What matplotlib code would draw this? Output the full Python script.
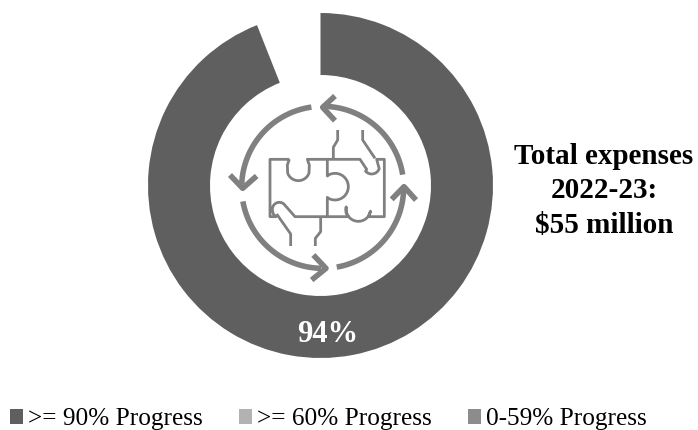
import numpy as np
import matplotlib
matplotlib.use("Agg")
import matplotlib.pyplot as plt
from matplotlib.patches import Patch

categories = [">= 90% Progress", ">= 60% Progress", "0-59% Progress"]
values = [94, 0, 0]
remainder = [6]
colors = ["#5f5f5f", "#b2b2b2", "#8c8c8c"]
center_label = "94%"
side_label = "Total expenses\n2022-23:\n$55 million"

W, H = 698, 430
plt.rcParams["font.family"] = ["Liberation Serif", "DejaVu Serif"]
fig = plt.figure(figsize=(W / 100, H / 100), dpi=100)

# donut
cx, cy, R, r = 320.5, 185.5, 172.5, 110.5
ax = fig.add_axes([(cx - R) / W, 1 - (cy + R) / H, 2 * R / W, 2 * R / H])
ax.pie(values + remainder, colors=colors + ["none"], startangle=90, counterclock=False,
       radius=1, wedgeprops=dict(width=1 - r / R, linewidth=0))
ax.set_xlim(-1, 1)
ax.set_ylim(-1, 1)
ax.set_aspect("equal")
ax.axis("off")

# overlay in pixel coordinates for the decorative icon and text
ov = fig.add_axes([0, 0, 1, 1])
ov.set_xlim(0, W)
ov.set_ylim(H, 0)
ov.axis("off")
ov.patch.set_alpha(0)

def Z(pts):
    a = np.array(pts, float)
    return a[:, 0] / 3 + 200, a[:, 1] / 3 + 90

ICON = "#808080"
icx, icy, ir = 368, 292, 243

def arc(a0, a1, lw=4.0):
    t = np.radians(np.linspace(a0, a1, 60))
    x, y = Z(np.c_[icx + ir * np.cos(t), icy - ir * np.sin(t)])
    ov.plot(x, y, color=ICON, lw=lw, solid_capstyle="butt")

def poly(pts, lw=2.0):
    x, y = Z(pts)
    ov.plot(x, y, color=ICON, lw=lw, solid_capstyle="butt", solid_joinstyle="round")

def curve(center, rad, a0, a1):
    t = np.radians(np.linspace(a0, a1, 30))
    return [(center[0] + rad * np.cos(v), center[1] - rad * np.sin(v)) for v in t]

arc(9, 88); arc(98, 178); arc(190, 269); arc(280, 358)
for head in ([(405, 18), (368, 52), (405, 92)],
             [(90, 255), (128, 295), (170, 258)],
             [(340, 495), (378, 535), (335, 570)],
             [(575, 328), (612, 290), (648, 330)]):
    poly(head, lw=4.0)

outline = ([(268, 208), (262, 225)] + curve((295, 238), 34, 200, 340) + [(328, 225), (322, 208), (480, 208)]
           + [(500, 238)] + curve((515, 228), 24, 220, 340) + [(530, 208), (553, 208), (553, 380), (505, 380)]
           + curve((475, 357), 37, 350, 170) + [(438, 368), (445, 380), (285, 380), (252, 342)]
           + curve((238, 358), 21, 50, 200) + [(220, 372), (228, 380), (210, 380), (210, 208), (268, 208)])
poly(outline)
poly([(382, 208), (382, 258)] + curve((405, 290), 40, 125, -125) + [(382, 322), (382, 380)])
poly([(413, 120), (413, 150), (400, 172), (400, 208)])
poly([(488, 120), (488, 150), (525, 205)])
poly([(272, 468), (272, 432), (230, 372)])
poly([(362, 380), (362, 425), (346, 445), (346, 468)])

ov.text(328, 335, center_label, color="white", fontsize=22, fontweight="bold", ha="center", va="center")
ov.text(604, 191, side_label, color="black", fontsize=21, fontweight="bold", ha="center", va="center",
        linespacing=1.36)

handles = [Patch(facecolor=c, edgecolor="none", label=l) for c, l in zip(colors, categories)]
leg = fig.legend(handles=handles, loc="lower left", bbox_to_anchor=(0.0145, -0.001), ncol=3, frameon=False,
                 fontsize=18.2, handlelength=0.51, handleheight=0.51, handletextpad=0.2, columnspacing=1.43,
                 borderpad=0, borderaxespad=0)
fig.savefig("out.png", dpi=100)
